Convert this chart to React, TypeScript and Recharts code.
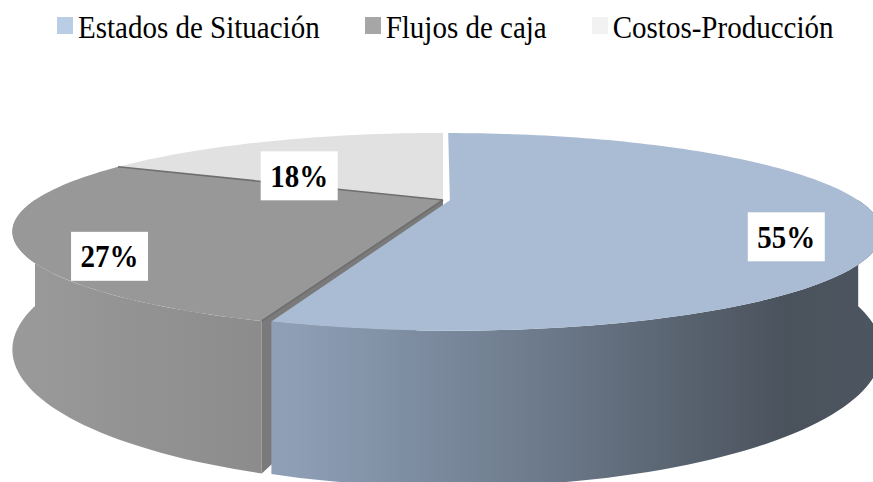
import { Cell, Legend, Pie, PieChart } from 'recharts';

const names = ['Estados de Situación', 'Flujos de caja', 'Costos-Producción'];
const shares = [55, 27, 18];

const data = names.map((name, i) => ({ name, value: shares[i] }));

const LEGEND_COLORS = ['#B9CDE5', '#A6A6A6', '#F2F2F2'];
const TOP_COLORS = ['#A9BCD4', '#989898', '#E1E1E1'];
const SIDE_STOPS = [
    ['#9CAFC9', '#8D9EB5', '#6C798A', '#4A525C', '#4D5560'],
    ['#9A9A9A', '#8A8A8A', '#848484', '#808080', '#808080'],
    ['#D8D8D8', '#CFCFCF', '#C4C4C4', '#BBBBBB', '#BBBBBB'],
];
const CUT_COLOR = '#7A7A7A';
const SERIF = '"Liberation Serif", "Times New Roman", serif';

// fake 3d: tilt + perspective applied to the pie's own angles
const TILT = 0.217;
const PERSP = 0.32;
const DEPTH = 106;
const EXPLODE = [0.017, 0, 0];
const LABEL_R = 0.8;
const LABEL_DY = 25;

const sliceIndex = (p: any) => {
    const n = p.name ?? p.payload?.name;
    const i = names.indexOf(n);
    return i >= 0 ? i : p.index ?? 0;
};

const offsetOf = (i: number, t0: number, t1: number) => {
    const m = ((t0 + t1) / 2) * Math.PI / 180;
    return { x: EXPLODE[i] * Math.sin(m), y: EXPLODE[i] * Math.cos(m) };
};

function project(cx: number, cy: number, R: number, theta: number, r: number, off: { x: number; y: number }) {
    const t = theta * Math.PI / 180;
    const X = r * Math.sin(t) + off.x;
    const Y = r * Math.cos(t) + off.y;
    const w = 1 + PERSP * Y;
    return { x: cx + R * X / w, y: cy - R * TILT * Y / w, d: DEPTH / w };
}

function arc(cx: number, cy: number, R: number, a: number, b: number, off: any) {
    const steps = Math.max(2, Math.ceil(Math.abs(b - a) / 1.5));
    const pts = [];
    for (let s = 0; s <= steps; s++) {
        pts.push(project(cx, cy, R, a + ((b - a) * s) / steps, 1, off));
    }
    return pts;
}

const toPath = (pts: { x: number; y: number }[]) =>
    'M' + pts.map((p) => p.x.toFixed(2) + ',' + p.y.toFixed(2)).join('L') + 'Z';

function SliceCut(props: any) {
    const { cx, cy, outerRadius: R, startAngle, endAngle } = props;
    const i = sliceIndex(props);
    if (EXPLODE[i] > 0) return <g />;
    const t0 = 90 - startAngle;
    const t1 = 90 - endAngle;
    const c = project(cx, cy, R, 0, 0, { x: 0, y: 0 });
    return (
        <g>
            {[t0, t1].map((t) => {
                const r = project(cx, cy, R, t, 1, { x: 0, y: 0 });
                const pts = [c, r, { x: r.x, y: r.y + r.d }, { x: c.x, y: c.y + c.d }];
                return <path key={t} d={toPath(pts)} fill={CUT_COLOR} />;
            })}
        </g>
    );
}

function SliceTop(props: any) {
    const { cx, cy, outerRadius: R, startAngle, endAngle } = props;
    const i = sliceIndex(props);
    const t0 = 90 - startAngle;
    const t1 = 90 - endAngle;
    const off = offsetOf(i, t0, t1);
    const c = project(cx, cy, R, 0, 0, off);
    const top = [c, ...arc(cx, cy, R, t0, t1, off)];

    const a = Math.max(t0, 90);
    const b = Math.min(t1, 270);
    let side = null;
    if (a < b) {
        const upper = arc(cx, cy, R, a, b, off);
        const lower = upper.map((p) => ({ x: p.x, y: p.y + p.d })).reverse();
        side = toPath([...upper, ...lower]);
    }
    const gid = 'side-grad-' + i;
    const stops = SIDE_STOPS[i];
    const edge = project(cx, cy, R, t0, 1, off);

    return (
        <g>
            <defs>
                <linearGradient id={gid} gradientUnits="userSpaceOnUse" x1={cx - R * 1.06} y1={0} x2={cx + R * 1.06} y2={0}>
                    <stop offset="0%" stopColor={stops[0]} />
                    <stop offset="33%" stopColor={stops[1]} />
                    <stop offset="62%" stopColor={stops[2]} />
                    <stop offset="90%" stopColor={stops[3]} />
                    <stop offset="100%" stopColor={stops[4]} />
                </linearGradient>
            </defs>
            {side && <path d={side} fill={`url(#${gid})`} />}
            <path d={toPath(top)} fill={TOP_COLORS[i]} />
            {EXPLODE[i] === 0 && (
                <line x1={c.x} y1={c.y} x2={edge.x} y2={edge.y} stroke="#6E6E6E" strokeWidth={1.6} />
            )}
        </g>
    );
}

function SliceLabel(props: any) {
    const { cx, cy, outerRadius: R, midAngle, percent, startAngle, endAngle } = props;
    const i = sliceIndex(props);
    const off = offsetOf(i, 90 - startAngle, 90 - endAngle);
    const p = project(cx, cy, R, 90 - midAngle, LABEL_R, off);
    const x = p.x;
    const y = p.y + LABEL_DY;
    return (
        <g>
            <rect x={x - 38.5} y={y - 24.5} width={77} height={49} fill="#FFFFFF" />
            <text
                transform={`translate(${x},${y + 11}) scale(1,1.12)`}
                textAnchor="middle"
                fontFamily={SERIF}
                fontWeight="bold"
                fontSize={29}
                fill="#000000"
            >
                {Math.round(percent * 100) + '%'}
            </text>
        </g>
    );
}

function LegendRow(props: any) {
    const payload = (props.payload || [])
        .filter((e: any) => e.type !== 'none')
        .sort((a: any, b: any) => names.indexOf(a.value) - names.indexOf(b.value));
    return (
        <div
            style={{
                display: 'flex',
                paddingLeft: 57,
                paddingTop: 11,
                height: 44,
                boxSizing: 'border-box',
                fontFamily: SERIF,
                fontSize: 29,
                lineHeight: '34px',
                color: '#000',
            }}
        >
            {payload.map((e: any, i: number) => (
                <div key={i} style={{ display: 'flex', alignItems: 'flex-start', marginRight: 45 }}>
                    <span style={{ width: 16, height: 17, background: e.color, marginTop: 6, marginRight: 5 }} />
                    <span style={{ whiteSpace: 'nowrap', display: 'inline-block', transform: 'scaleY(1.1)', transformOrigin: '50% 80%' }}>
                        {e.value}
                    </span>
                </div>
            ))}
        </div>
    );
}

export default function App() {
    return (
        <div style={{ position: 'absolute', left: 0, top: 0, width: 873, height: 482, background: '#fff' }}>
            <PieChart width={873} height={482} margin={{ top: 0, right: 0, bottom: 0, left: 0 }}>
                <Legend
                    verticalAlign="middle"
                    align="center"
                    content={<LegendRow />}
                    wrapperStyle={{ top: 0, left: 0, width: 873 }}
                />
                <Pie
                    data={data}
                    dataKey="value"
                    nameKey="name"
                    cx={443}
                    cy={200}
                    outerRadius={408}
                    startAngle={90}
                    endAngle={-270}
                    legendType="none"
                    shape={SliceCut}
                    isAnimationActive={false}
                />
                <Pie
                    data={data}
                    dataKey="value"
                    nameKey="name"
                    cx={443}
                    cy={200}
                    outerRadius={408}
                    startAngle={90}
                    endAngle={-270}
                    legendType="square"
                    shape={SliceTop}
                    label={SliceLabel}
                    labelLine={false}
                    isAnimationActive={false}
                >
                    {data.map((d, i) => (
                        <Cell key={d.name} fill={LEGEND_COLORS[i]} />
                    ))}
                </Pie>
            </PieChart>
        </div>
    );
}
